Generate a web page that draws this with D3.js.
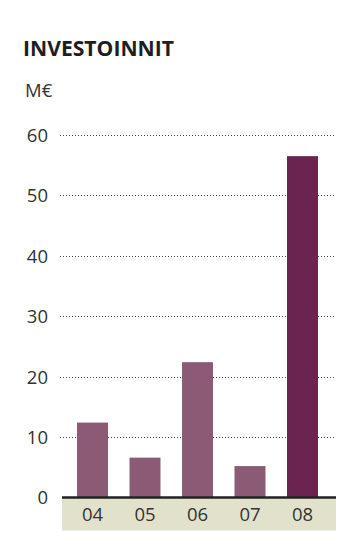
<!DOCTYPE html>
<html><head><meta charset="utf-8">
<script src="https://cdn.jsdelivr.net/npm/d3@7"></script>
<style>body{margin:0;background:#fff}svg{display:block}</style>
</head><body>
<script>
const categories = ["04","05","06","07","08"];
const values = [12.4, 6.6, 22.4, 5.2, 56.5];
const yTicks = [0,10,20,30,40,50,60];
const title = "INVESTOINNIT";
const unit = "M€";

const W = 363, H = 547;
const svg = d3.select("body").append("svg").attr("width", W).attr("height", H);
const font = "'Open Sans', sans-serif";

const y = d3.scaleLinear().domain([0,60]).range([497.5,135]);
const x = d3.scaleBand().domain(categories).range([66,329]).paddingInner(0.41).paddingOuter(0.21);

svg.append("text").attr("x",23).attr("y",55.5).text(title)
  .attr("font-family",font).attr("font-weight",700).attr("font-size",21)
  .attr("textLength",151).attr("lengthAdjust","spacingAndGlyphs").attr("fill","#1e1e1e");
svg.append("text").attr("x",25).attr("y",96.7).text(unit)
  .attr("font-family",font).attr("font-size",18.5).attr("fill","#333");

// category band
svg.append("rect").attr("x",62).attr("y",y(0)).attr("width",274).attr("height",33).attr("fill","#e2e2cc");

// grid
const yAxis = d3.axisLeft(y).tickValues(yTicks).tickSize(0).tickPadding(0);
const ga = svg.append("g").attr("transform","translate(48,0)").call(yAxis);
ga.select(".domain").remove();
ga.selectAll("text").attr("font-family",font).attr("font-size",18.5).attr("fill","#333").attr("dy","0.35em");
svg.append("g").selectAll("line").data(yTicks.filter(d=>d>0)).join("line")
  .attr("x1",60).attr("x2",336).attr("y1",d=>Math.round(y(d))+0.5).attr("y2",d=>Math.round(y(d))+0.5)
  .attr("stroke","#444").attr("stroke-width",1).attr("stroke-dasharray","1,2");

svg.append("g").selectAll("rect").data(values).join("rect")
  .attr("x",(d,i)=>x(categories[i])).attr("width",x.bandwidth())
  .attr("y",d=>y(d)).attr("height",d=>y(0)-y(d))
  .attr("fill",(d,i)=>i===4?"#6b2350":"#8b5b75");

svg.append("line").attr("x1",62).attr("x2",336).attr("y1",y(0)).attr("y2",y(0))
  .attr("stroke","#222").attr("stroke-width",2.5);

const xAxis = d3.axisBottom(x).tickSize(0).tickPadding(0);
const gx = svg.append("g").attr("transform",`translate(0,${y(0)})`).call(xAxis);
gx.select(".domain").remove();
gx.selectAll("text").attr("font-family",font).attr("font-size",18.5).attr("fill","#333").attr("dy",0).attr("y",23.2);
</script>
</body></html>
